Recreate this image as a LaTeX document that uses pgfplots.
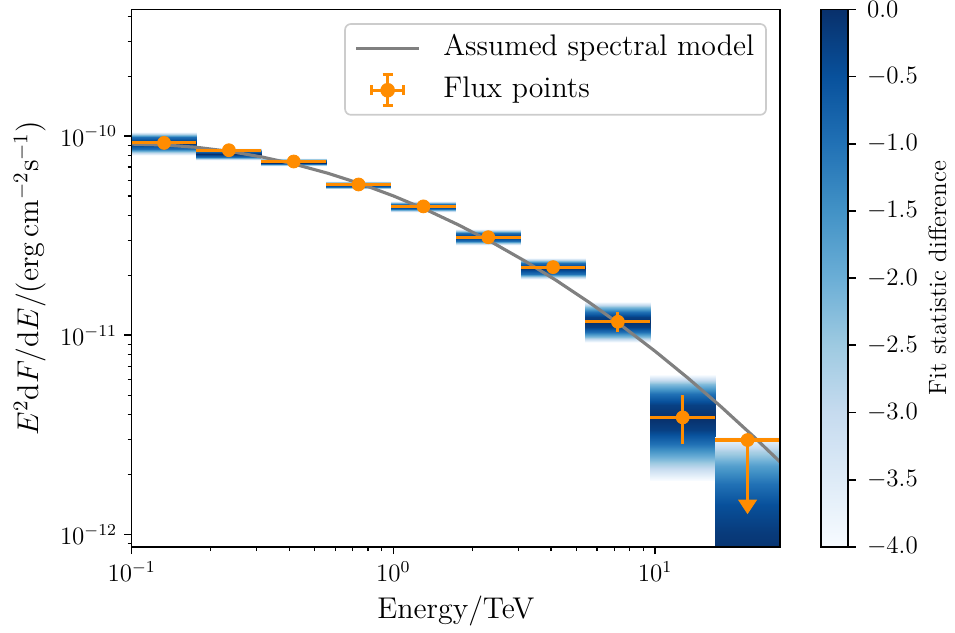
\documentclass[border=0pt]{standalone}
\usepackage{pgfplots}
\pgfplotsset{compat=1.18}

\definecolor{fluxorange}{RGB}{255,140,0}
\definecolor{modelgray}{RGB}{128,128,128}

\pgfplotsset{
  colormap={blues}{rgb255=(247,251,255) rgb255=(222,235,247) rgb255=(198,219,239)
    rgb255=(158,202,225) rgb255=(107,174,214) rgb255=(66,146,198)
    rgb255=(33,113,181) rgb255=(8,81,156) rgb255=(8,48,107)},
  profile/.style={surf, shader=interp, mesh/cols=2, point meta=explicit, forget plot},
}

% flux points: energy, flux, bin half-widths (minus/plus), flux errors (minus/plus)
\pgfplotstableread{
E        F         exm      exp      eym       eyp
0.13300  9.25e-11  0.03300  0.04389  2.5e-12   2.5e-12
0.23526  8.50e-11  0.05837  0.07764  2.0e-12   2.0e-12
0.41616  7.46e-11  0.10326  0.13734  1.5e-12   1.5e-12
0.73615  5.72e-11  0.18265  0.24293  1.1e-12   1.1e-12
1.3022   4.44e-11  0.32312  0.42970  0.9e-12   0.9e-12
2.3034   3.11e-11  0.57150  0.76010  0.8e-12   0.8e-12
4.0745   2.20e-11  1.01100  1.34450  0.8e-12   0.8e-12
7.2073   1.170e-11 1.78830  2.37840  1.29e-12  1.38e-12
12.749   3.87e-12  3.16330  4.20700  1.03e-12  1.14e-12
}\fluxpoints

% upper limit in the last bin
\pgfplotstableread{
E        F         exm      exp      eym
22.552   2.98e-12  5.596    7.448    1.49e-12
}\upperlimit

% assumed spectral model, E^2 dN/dE
\pgfplotstableread{
E        F
0.1      9.120e-11
0.1334   9.035e-11
0.1778   8.785e-11
0.2371   8.384e-11
0.3162   7.852e-11
0.4217   7.219e-11
0.5623   6.512e-11
0.7499   5.766e-11
1.0      5.012e-11
1.3335   4.275e-11
1.7783   3.578e-11
2.3714   2.940e-11
3.1623   2.371e-11
4.2170   1.877e-11
5.6234   1.458e-11
7.4989   1.111e-11
10.0     8.318e-12
13.335   6.108e-12
17.783   4.402e-12
23.714   3.114e-12
30.0     2.315e-12
}\model

\begin{document}
\begin{tikzpicture}
\begin{axis}[
  name=main,
  scale only axis, width=311.2pt, height=258pt,
  xmode=log, ymode=log,
  xmin=0.1, xmax=30, ymin=8.66e-13, ymax=4.33e-10,
  axis on top,
  axis line style={line width=0.8pt},
  tick align=outside, xtick pos=left, ytick pos=left,
  major tick length=3.5pt, minor tick length=2pt,
  every major tick/.append style={line width=0.8pt, black},
  every minor tick/.append style={line width=0.6pt, black},
  tick label style={font=\fontsize{11.6}{14}\selectfont},
  label style={font=\fontsize{14.4}{17.3}\selectfont},
  xlabel={Energy/TeV},
  ylabel={$E^2\mathrm{d}F/\mathrm{d}E/(\mathrm{erg\,cm^{-2}s^{-1}})$},
  colormap name=blues, point meta min=-4, point meta max=0,
  colorbar,
  colorbar style={
    at={(parent axis.north east)}, anchor=north west, xshift=11.2pt,
    width=13pt,
    ytick={-4,-3.5,-3,-2.5,-2,-1.5,-1,-0.5,0},
    ytick pos=right, yticklabel pos=right,
    tick align=outside, major tick length=3.5pt,
    every major tick/.append style={line width=0.8pt, black},
    axis line style={line width=0.8pt},
    yticklabel style={font=\fontsize{11.5}{14}\selectfont, xshift=2pt,
      /pgf/number format/.cd, fixed, fixed zerofill, precision=1},
    ylabel={Fit statistic difference},
    ylabel style={font=\fontsize{12}{14.4}\selectfont,
      at={(rel axis cs:1,0.5)}, anchor=center, rotate=0, yshift=-42.8pt},
  },
  legend cell align=left,
  legend style={
    at={(1,1)}, anchor=north east, xshift=-6.3pt, yshift=-6.6pt,
    draw=black!20, line width=0.8pt, rounded corners=2.8pt, fill=white,
    font=\fontsize{14.3}{17}\selectfont,
    inner xsep=4.7pt, inner ysep=4.3pt, row sep=5pt,
    nodes={inner sep=1pt, text height=10pt, text depth=3pt},
    /tikz/every odd column/.append style={column sep=10pt},
  },
]

% likelihood profiles of the energy bins
\addplot[profile] coordinates {
(0.1,8.028e-11) [-4] (0.17689,8.028e-11) [-4]
(0.1,8.605e-11) [-1] (0.17689,8.605e-11) [-1]
(0.1,9.223e-11) [0]  (0.17689,9.223e-11) [0]
(0.1,9.857e-11) [-1] (0.17689,9.857e-11) [-1]
(0.1,1.0534e-10) [-4] (0.17689,1.0534e-10) [-4]
};
\addplot[profile] coordinates {
(0.17689,7.577e-11) [-4] (0.3129,7.577e-11) [-4]
(0.17689,7.868e-11) [-1] (0.3129,7.868e-11) [-1]
(0.17689,8.169e-11) [0]  (0.3129,8.169e-11) [0]
(0.17689,8.457e-11) [-1] (0.3129,8.457e-11) [-1]
(0.17689,8.755e-11) [-4] (0.3129,8.755e-11) [-4]
};
\addplot[profile] coordinates {
(0.3129,7.070e-11) [-4] (0.5535,7.070e-11) [-4]
(0.3129,7.214e-11) [-1] (0.5535,7.214e-11) [-1]
(0.3129,7.361e-11) [0]  (0.5535,7.361e-11) [0]
(0.3129,7.577e-11) [-1] (0.5535,7.577e-11) [-1]
(0.3129,7.800e-11) [-4] (0.5535,7.800e-11) [-4]
};
\addplot[profile] coordinates {
(0.5535,5.451e-11) [-4] (0.97908,5.451e-11) [-4]
(0.5535,5.578e-11) [-1] (0.97908,5.578e-11) [-1]
(0.5535,5.709e-11) [0]  (0.97908,5.709e-11) [0]
(0.5535,5.825e-11) [-1] (0.97908,5.825e-11) [-1]
(0.5535,5.944e-11) [-4] (0.97908,5.944e-11) [-4]
};
\addplot[profile] coordinates {
(0.97908,4.154e-11) [-4] (1.7319,4.154e-11) [-4]
(0.97908,4.288e-11) [-1] (1.7319,4.288e-11) [-1]
(0.97908,4.427e-11) [0]  (1.7319,4.427e-11) [0]
(0.97908,4.570e-11) [-1] (1.7319,4.570e-11) [-1]
(0.97908,4.717e-11) [-4] (1.7319,4.717e-11) [-4]
};
\addplot[profile] coordinates {
(1.7319,2.837e-11) [-4] (3.0635,2.837e-11) [-4]
(1.7319,2.971e-11) [-1] (3.0635,2.971e-11) [-1]
(1.7319,3.112e-11) [0]  (3.0635,3.112e-11) [0]
(1.7319,3.259e-11) [-1] (3.0635,3.259e-11) [-1]
(1.7319,3.413e-11) [-4] (3.0635,3.413e-11) [-4]
};
\addplot[profile] coordinates {
(3.0635,1.915e-11) [-4] (5.419,1.915e-11) [-4]
(3.0635,2.041e-11) [-1] (5.419,2.041e-11) [-1]
(3.0635,2.175e-11) [0]  (5.419,2.175e-11) [0]
(3.0635,2.304e-11) [-1] (5.419,2.304e-11) [-1]
(3.0635,2.441e-11) [-4] (5.419,2.441e-11) [-4]
};
\addplot[profile] coordinates {
(5.419,9.212e-12) [-4]    (9.5857,9.212e-12) [-4]
(5.419,9.777e-12) [-2.25] (9.5857,9.777e-12) [-2.25]
(5.419,1.0377e-11) [-1]   (9.5857,1.0377e-11) [-1]
(5.419,1.1013e-11) [-0.25] (9.5857,1.1013e-11) [-0.25]
(5.419,1.1689e-11) [0]    (9.5857,1.1689e-11) [0]
(5.419,1.2384e-11) [-0.25] (9.5857,1.2384e-11) [-0.25]
(5.419,1.3121e-11) [-1]   (9.5857,1.3121e-11) [-1]
(5.419,1.3902e-11) [-2.25] (9.5857,1.3902e-11) [-2.25]
(5.419,1.4729e-11) [-4]   (9.5857,1.4729e-11) [-4]
};
\addplot[profile] coordinates {
(9.5857,1.875e-12) [-4]    (16.956,1.875e-12) [-4]
(9.5857,2.366e-12) [-2.25] (16.956,2.366e-12) [-2.25]
(9.5857,2.858e-12) [-1]    (16.956,2.858e-12) [-1]
(9.5857,3.349e-12) [-0.25] (16.956,3.349e-12) [-0.25]
(9.5857,3.840e-12) [0]     (16.956,3.840e-12) [0]
(9.5857,4.458e-12) [-0.25] (16.956,4.458e-12) [-0.25]
(9.5857,5.076e-12) [-1]    (16.956,5.076e-12) [-1]
(9.5857,5.694e-12) [-2.25] (16.956,5.694e-12) [-2.25]
(9.5857,6.312e-12) [-4]    (16.956,6.312e-12) [-4]
};
\addplot[profile] coordinates {
(16.956,8.0e-13) [-0.054]  (30,8.0e-13) [-0.054]
(16.956,1.0e-12) [-0.149]  (30,1.0e-12) [-0.149]
(16.956,1.4e-12) [-0.482]  (30,1.4e-12) [-0.482]
(16.956,1.8e-12) [-1.005]  (30,1.8e-12) [-1.005]
(16.956,2.2e-12) [-1.718]  (30,2.2e-12) [-1.718]
(16.956,2.6e-12) [-2.622]  (30,2.6e-12) [-2.622]
(16.956,3.094e-12) [-4]    (30,3.094e-12) [-4]
};

% spectral model
\addplot[modelgray, line width=1.5pt, no markers,
  legend image code/.code={\draw[modelgray, line width=1.5pt] (0pt,0pt) -- (30pt,0pt);}]
  table[x=E, y=F] {\model};
\addlegendentry{Assumed spectral model}

% flux points
\addplot[only marks, mark=*, mark size=3.1pt,
  mark options={fluxorange, fill=fluxorange},
  legend image code/.code={
    \path[draw=none, fill=none] (0pt,-2pt) rectangle (30pt,2pt);
    \draw[overlay, fluxorange, line width=1.5pt, sharp corners]
      (7.4pt,0pt) -- (22.6pt,0pt) (15pt,-7.4pt) -- (15pt,7.4pt)
      (7.4pt,-2.4pt) -- (7.4pt,2.4pt) (22.6pt,-2.4pt) -- (22.6pt,2.4pt)
      (12.6pt,7.4pt) -- (17.4pt,7.4pt) (12.6pt,-7.4pt) -- (17.4pt,-7.4pt);
    \fill[overlay, fluxorange] (15pt,0pt) circle (3.1pt);
  },
  error bars/.cd, x dir=both, x explicit, y dir=both, y explicit,
  error mark=none, error bar style={fluxorange, line width=1.5pt}]
  table[x=E, y=F, x error minus=exm, x error plus=exp,
        y error minus=eym, y error plus=eyp] {\fluxpoints};
\addlegendentry{Flux points}

\addplot[only marks, mark=*, mark size=3.1pt, forget plot,
  mark options={fluxorange, fill=fluxorange},
  error bars/.cd, x dir=both, x explicit, y dir=minus, y explicit,
  error mark=none, error bar style={fluxorange, line width=1.5pt}]
  table[x=E, y=F, x error minus=exm, x error plus=exp, y error minus=eym] {\upperlimit};
\addplot[only marks, mark=triangle*, mark size=4.26pt, forget plot,
  mark options={fluxorange, fill=fluxorange, xscale=1.15, rotate=180}]
  coordinates {(22.552,1.414e-12)};
\end{axis}
\pgfresetboundingbox
\path[use as bounding box] ([xshift=-63.2pt, yshift=-40.9pt]main.south west)
  rectangle ([xshift=84pt, yshift=4.5pt]main.north east);
\end{tikzpicture}
\end{document}
